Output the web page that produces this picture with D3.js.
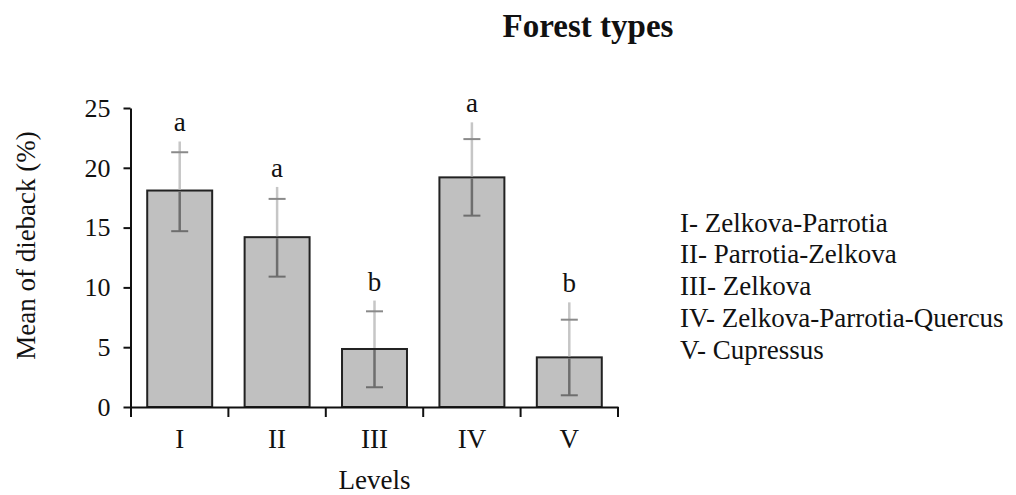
<!DOCTYPE html>
<html>
<head>
<meta charset="utf-8">
<script src="https://cdn.jsdelivr.net/npm/d3@7"></script>
<style>
  html, body { margin: 0; padding: 0; background: #fff; }
  svg text { font-family: "Liberation Serif", Tinos, "DejaVu Serif", "Noto Serif", serif; fill: #111; }
</style>
</head>
<body>
<svg id="chart" width="1016" height="495"></svg>
<script>
// ---- data ----
const categories = ["I", "II", "III", "IV", "V"];
const means      = [18.1, 14.2, 4.85, 19.2, 4.15];
const errLow     = [14.7, 10.9, 1.65, 16.0, 0.98];
const errHigh    = [21.3, 17.4, 8.0, 22.4, 7.3];
const whiskerTop = [22.2, 18.4, 8.9, 23.8, 8.75];
const groupLetters = ["a", "a", "b", "a", "b"];
const yTicks = [0, 5, 10, 15, 20, 25];
const legendItems = [
  "I- Zelkova-Parrotia",
  "II- Parrotia-Zelkova",
  "III- Zelkova",
  "IV- Zelkova-Parrotia-Quercus",
  "V- Cupressus"
];
const titleText = "Forest types";
const xTitle = "Levels";
const yTitle = "Mean of dieback (%)";

// ---- layout ----
const FONT = '"Liberation Serif", Tinos, "DejaVu Serif", "Noto Serif", serif';
const svg = d3.select("#chart");
const x0 = 131, x1 = 618, yBottom = 407, yTop = 108;
const fs = 27;

const x = d3.scaleBand().domain(categories).range([x0, x1])
  .paddingInner(0.333).paddingOuter(0.1665);
const y = d3.scaleLinear().domain([0, 25]).range([yBottom, yTop]);

// title
svg.append("text").attr("x", 588).attr("y", 37)
  .attr("text-anchor", "middle").style("font-size", "33px").style("font-weight", "bold")
  .style("font-family", FONT)
  .text(titleText);

// bars
svg.append("g").selectAll("rect").data(categories).join("rect")
  .attr("x", d => x(d))
  .attr("width", x.bandwidth())
  .attr("y", (d, i) => y(means[i]))
  .attr("height", (d, i) => y(0) - y(means[i]))
  .attr("fill", "#c0c0c0")
  .attr("stroke", "#222")
  .attr("stroke-width", 2);

// error bars
const eb = svg.append("g");
const cx = d => x(d) + x.bandwidth() / 2;
const capW = 8.5;
categories.forEach((d, i) => {
  const c = cx(d);
  eb.append("line").attr("x1", c).attr("x2", c)
    .attr("y1", y(means[i]) - 1).attr("y2", y(whiskerTop[i]))
    .attr("stroke", "#c6c6c6").attr("stroke-width", 2.5);
  eb.append("line").attr("x1", c).attr("x2", c)
    .attr("y1", y(errLow[i])).attr("y2", y(means[i]) + 1)
    .attr("stroke", "#6e6e6e").attr("stroke-width", 2.5);
  eb.append("line").attr("x1", c - capW).attr("x2", c + capW)
    .attr("y1", y(errLow[i])).attr("y2", y(errLow[i]))
    .attr("stroke", "#6e6e6e").attr("stroke-width", 2);
  eb.append("line").attr("x1", c - capW).attr("x2", c + capW)
    .attr("y1", y(errHigh[i])).attr("y2", y(errHigh[i]))
    .attr("stroke", "#8a8a8a").attr("stroke-width", 2);
  svg.append("text").attr("x", c).attr("y", y(whiskerTop[i]) - 10)
    .attr("text-anchor", "middle").style("font-size", fs + "px")
    .style("font-family", FONT)
    .text(groupLetters[i]);
});

// y axis
const gy = svg.append("g").attr("transform", `translate(${x0 - 0.5},0)`)
  .call(d3.axisLeft(y).tickValues(yTicks).tickSize(7).tickSizeOuter(0).tickPadding(13));
gy.attr("font-family", null);
gy.select(".domain").attr("stroke", "#111").attr("stroke-width", 2);
gy.selectAll(".tick line").attr("stroke", "#111").attr("stroke-width", 2);
gy.selectAll(".tick text").style("font-size", "26px")
  .style("font-family", FONT).attr("fill", "#111");

// x axis
const gx = svg.append("g").attr("transform", `translate(0,${yBottom})`)
  .call(d3.axisBottom(x).tickSize(0).tickSizeOuter(0).tickPadding(22));
gx.attr("font-family", null);
gx.select(".domain").attr("stroke", "#111").attr("stroke-width", 2);
gx.selectAll(".tick text").style("font-size", fs + "px")
  .style("font-family", FONT).attr("fill", "#111");
const bounds = d3.range(categories.length + 1).map(k => x0 + k * x.step());
gx.selectAll(".bt").data(bounds).join("line").attr("class", "bt")
  .attr("x1", d => d).attr("x2", d => d).attr("y1", 0).attr("y2", 10)
  .attr("stroke", "#111").attr("stroke-width", 2);

// axis titles
svg.append("text").attr("x", (x0 + x1) / 2).attr("y", 489)
  .attr("text-anchor", "middle").style("font-size", fs + "px")
  .style("font-family", FONT).text(xTitle);
svg.append("text").attr("transform", "translate(35,245.5) rotate(-90)")
  .attr("text-anchor", "middle").style("font-size", fs + "px")
  .style("font-family", FONT).text(yTitle);

// legend
svg.append("g").selectAll("text").data(legendItems).join("text")
  .attr("x", 680).attr("y", (d, i) => 231.5 + i * 31.75)
  .style("font-size", fs + "px").style("font-family", FONT).text(d => d);
</script>
</body>
</html>
